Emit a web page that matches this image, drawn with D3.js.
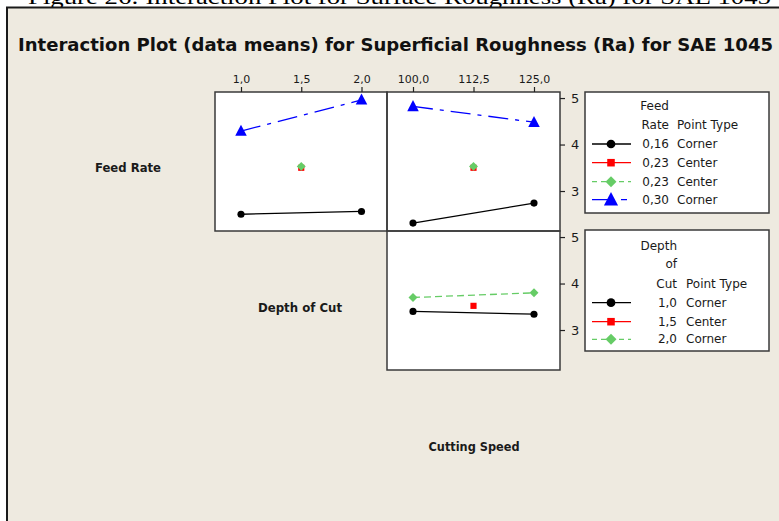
<!DOCTYPE html>
<html>
<head>
<meta charset="utf-8">
<script src="https://cdn.jsdelivr.net/npm/d3@7/dist/d3.min.js"></script>
<style>
  html, body { margin: 0; padding: 0; background: #ffffff; overflow: hidden; }
  svg { display: block; }
  text { font-family: "DejaVu Sans", sans-serif; fill: #1a1a1a; }
</style>
</head>
<body>
<svg id="chart" width="779" height="521"></svg>
<script>
// ---- data: interaction means of Ra ----
const depthLevels = [1.0, 2.0];          // Depth of Cut corner levels
const depthCenter = 1.5;
const speedLevels = [100, 125];          // Cutting Speed corner levels
const speedCenter = 112.5;

const depthTicks = [1.0, 1.5, 2.0];
const speedTicks = [100.0, 112.5, 125.0];
const yTicks = [3, 4, 5];

// Feed Rate lines vs Depth of Cut
const feedLowByDepth  = [2.50, 2.56];    // 0,16 Corner
const feedHighByDepth = [4.29, 4.96];    // 0,30 Corner
const feedCenterByDepth = 3.50;          // 0,23 Center

// Feed Rate lines vs Cutting Speed
const feedLowBySpeed  = [2.31, 2.74];
const feedHighBySpeed = [4.82, 4.48];
const feedCenterBySpeed = 3.50;

// Depth of Cut lines vs Cutting Speed
const depthLowBySpeed  = [3.40, 3.34];   // 1,0 Corner
const depthHighBySpeed = [3.70, 3.80];   // 2,0 Corner
const depthCenterBySpeed = 3.52;         // 1,5 Center

const feedLegend = [
  { level: "0,16", type: "Corner", key: "black" },
  { level: "0,23", type: "Center", key: "red" },
  { level: "0,23", type: "Center", key: "green" },
  { level: "0,30", type: "Corner", key: "blue" }
];
const depthLegend = [
  { level: "1,0", type: "Corner", key: "black" },
  { level: "1,5", type: "Center", key: "red" },
  { level: "2,0", type: "Corner", key: "green" }
];

// ---- styles for each series ----
const styles = {
  black: { color: "#000000", dash: null,        shape: "circle" },
  red:   { color: "#ff0000", dash: null,        shape: "square" },
  green: { color: "#66cc66", dash: "7,4",       shape: "diamond" },
  blue:  { color: "#0000ff", dash: "20,7,4,7",  shape: "triangle" }
};

const svg = d3.select("#chart");
const fmt = d => d3.format(".1f")(d).replace(".", ",");

// caption line above the frame
svg.append("text")
  .attr("x", 28).attr("y", 4)
  .attr("textLength", 743).attr("lengthAdjust", "spacingAndGlyphs")
  .style("font-family", "'Liberation Serif', 'DejaVu Serif', serif")
  .style("font-size", "21px").style("fill", "#000")
  .text("Figure 26: Interaction Plot for Surface Roughness (Ra) for SAE 1045");

// graph frame
svg.append("rect")
  .attr("x", 7).attr("y", 7.5).attr("width", 820).attr("height", 560)
  .attr("fill", "#eeeae0").attr("stroke", "#1a1a1a").attr("stroke-width", 2);

svg.append("text")
  .attr("x", 18).attr("y", 51)
  .attr("textLength", 755).attr("lengthAdjust", "spacingAndGlyphs")
  .style("font-family", "'DejaVu Sans Condensed', 'DejaVu Sans', sans-serif")
  .style("font-size", "18px").style("font-weight", "bold").style("fill", "#111")
  .text("Interaction Plot (data means) for Superficial Roughness (Ra) for SAE 1045");

// panel geometry
const col = [{ x0: 215, x1: 387 }, { x0: 387, x1: 560 }];
const row = [{ y0: 92, y1: 231 }, { y0: 231, y1: 370 }];

const xDepth = d3.scaleLinear().domain([1.0, 2.0]).range([col[0].x0 + 26, col[0].x1 - 25.5]);
const xSpeed = d3.scaleLinear().domain([100, 125]).range([col[1].x0 + 26, col[1].x1 - 26]);
const yRow = row.map(r => d3.scaleLinear().domain([2.14, 5.13]).range([r.y1, r.y0]));

// symbol shapes
const symbolTypes = {
  circle: d3.symbolCircle,
  square: d3.symbolSquare,
  diamond: {
    draw(ctx, size) {
      const h = Math.sqrt(size / 2);
      ctx.moveTo(0, -h); ctx.lineTo(h, 0); ctx.lineTo(0, h); ctx.lineTo(-h, 0); ctx.closePath();
    }
  },
  triangle: {
    draw(ctx, size) {
      const s = Math.sqrt(size), w = s * 0.55, hTop = s * 0.6, hBot = s * 0.45;
      ctx.moveTo(0, -hTop); ctx.lineTo(w, hBot); ctx.lineTo(-w, hBot); ctx.closePath();
    }
  }
};
const symbolSizes = { circle: 40, square: 38, diamond: 40, triangle: 110 };
const marker = (shape, scale = 1) => d3.symbol().type(symbolTypes[shape]).size(symbolSizes[shape] * scale)();

function panelRect(c, r) {
  return svg.append("rect")
    .attr("x", col[c].x0).attr("y", row[r].y0)
    .attr("width", col[c].x1 - col[c].x0).attr("height", row[r].y1 - row[r].y0);
}

function drawSeries(xs, ys, xScale, yScale, key) {
  const st = styles[key];
  const pts = xs.map((x, i) => [xScale(x), yScale(ys[i])]);
  if (pts.length > 1) {
    svg.append("path")
      .attr("d", d3.line()(pts))
      .attr("fill", "none").attr("stroke", st.color).attr("stroke-width", 1.3)
      .attr("stroke-dasharray", st.dash);
  }
  svg.append("g").selectAll("path").data(pts).join("path")
    .attr("transform", d => `translate(${d[0]},${d[1]})`)
    .attr("d", marker(st.shape))
    .attr("fill", st.color);
}

[[0, 0], [1, 0], [1, 1]].forEach(([c, r]) => panelRect(c, r).attr("fill", "#ffffff"));

// Feed Rate x Depth of Cut
drawSeries(depthLevels, feedLowByDepth, xDepth, yRow[0], "black");
drawSeries(depthLevels, feedHighByDepth, xDepth, yRow[0], "blue");
drawSeries([depthCenter], [feedCenterByDepth], xDepth, yRow[0], "red");
drawSeries([depthCenter], [feedCenterByDepth + 0.03], xDepth, yRow[0], "green");

// Feed Rate x Cutting Speed
drawSeries(speedLevels, feedLowBySpeed, xSpeed, yRow[0], "black");
drawSeries(speedLevels, feedHighBySpeed, xSpeed, yRow[0], "blue");
drawSeries([speedCenter], [feedCenterBySpeed], xSpeed, yRow[0], "red");
drawSeries([speedCenter], [feedCenterBySpeed + 0.03], xSpeed, yRow[0], "green");

// Depth of Cut x Cutting Speed
drawSeries(speedLevels, depthHighBySpeed, xSpeed, yRow[1], "green");
drawSeries(speedLevels, depthLowBySpeed, xSpeed, yRow[1], "black");
drawSeries([speedCenter], [depthCenterBySpeed], xSpeed, yRow[1], "red");

[[0, 0], [1, 0], [1, 1]].forEach(([c, r]) =>
  panelRect(c, r).attr("fill", "none").attr("stroke", "#3a3a3a").attr("stroke-width", 1.5));

// top axes
const axisStyle = g => {
  g.select(".domain").remove();
  g.selectAll(".tick line").attr("stroke", "#222").attr("stroke-width", 1.2);
  g.selectAll(".tick text").style("font-family", "'DejaVu Sans', sans-serif")
    .style("font-size", "11px").attr("fill", "#222");
};
svg.append("g").attr("transform", `translate(0,${row[0].y0})`)
  .call(d3.axisTop(xDepth).tickValues(depthTicks).tickFormat(fmt).tickSizeOuter(0).tickSizeInner(5).tickPadding(4))
  .call(axisStyle);
svg.append("g").attr("transform", `translate(0,${row[0].y0})`)
  .call(d3.axisTop(xSpeed).tickValues(speedTicks).tickFormat(fmt).tickSizeOuter(0).tickSizeInner(5).tickPadding(4))
  .call(axisStyle);

// right axes
[0, 1].forEach(r => {
  svg.append("g").attr("transform", `translate(${col[1].x1},0)`)
    .call(d3.axisRight(yRow[r]).tickValues(yTicks).tickFormat(d3.format("d")).tickSizeOuter(0).tickSizeInner(5).tickPadding(6))
    .call(axisStyle)
    .call(g => g.selectAll(".tick text").style("font-size", "13px"));
});

// factor labels
const factorLabel = (x, y, t, w) => svg.append("text")
  .attr("x", x).attr("y", y).attr("text-anchor", "middle")
  .attr("textLength", w).attr("lengthAdjust", "spacingAndGlyphs")
  .style("font-family", "'DejaVu Sans Condensed', 'DejaVu Sans', sans-serif")
  .style("font-size", "12px").style("font-weight", "bold").text(t);
factorLabel(128, 172, "Feed Rate", 66);
factorLabel(300, 312, "Depth of Cut", 84);
factorLabel(474, 451, "Cutting Speed", 91);

// legends
function drawLegend(box, header, items, valueX, typeX, rowY) {
  svg.append("rect")
    .attr("x", box.x).attr("y", box.y).attr("width", box.w).attr("height", box.h)
    .attr("fill", "#ffffff").attr("stroke", "#3a3a3a").attr("stroke-width", 1.5);
  header.forEach((h, i) => {
    svg.append("text").attr("x", valueX).attr("y", rowY[i] + 4)
      .attr("text-anchor", "end").style("font-size", "12px").text(h);
  });
  svg.append("text").attr("x", typeX).attr("y", rowY[header.length - 1] + 4)
    .style("font-size", "12px").text("Point Type");
  items.forEach((it, i) => {
    const y = rowY[header.length + i];
    const st = styles[it.key];
    svg.append("line")
      .attr("x1", box.x + 7).attr("x2", box.x + 46).attr("y1", y).attr("y2", y)
      .attr("stroke", st.color).attr("stroke-width", 1.3)
      .attr("stroke-dasharray", it.key === "blue" ? "22,7,6,7" : (it.key === "green" ? "5,4" : null));
    svg.append("path")
      .attr("transform", `translate(${box.x + 26},${y})`)
      .attr("d", marker(st.shape, 1.5)).attr("fill", st.color);
    svg.append("text").attr("x", valueX).attr("y", y + 4)
      .attr("text-anchor", "end").style("font-size", "12px").text(it.level);
    svg.append("text").attr("x", typeX).attr("y", y + 4)
      .style("font-size", "12px").text(it.type);
  });
}

drawLegend({ x: 585, y: 92, w: 184, h: 121 }, ["Feed", "Rate"], feedLegend,
  669, 677, [105.7, 125, 144, 162.7, 181.7, 199.7]);
drawLegend({ x: 585, y: 230, w: 184, h: 121 }, ["Depth", "of", "Cut"], depthLegend,
  677, 686, [245.7, 264.3, 284, 302.7, 321.7, 339.3]);
</script>
</body>
</html>
